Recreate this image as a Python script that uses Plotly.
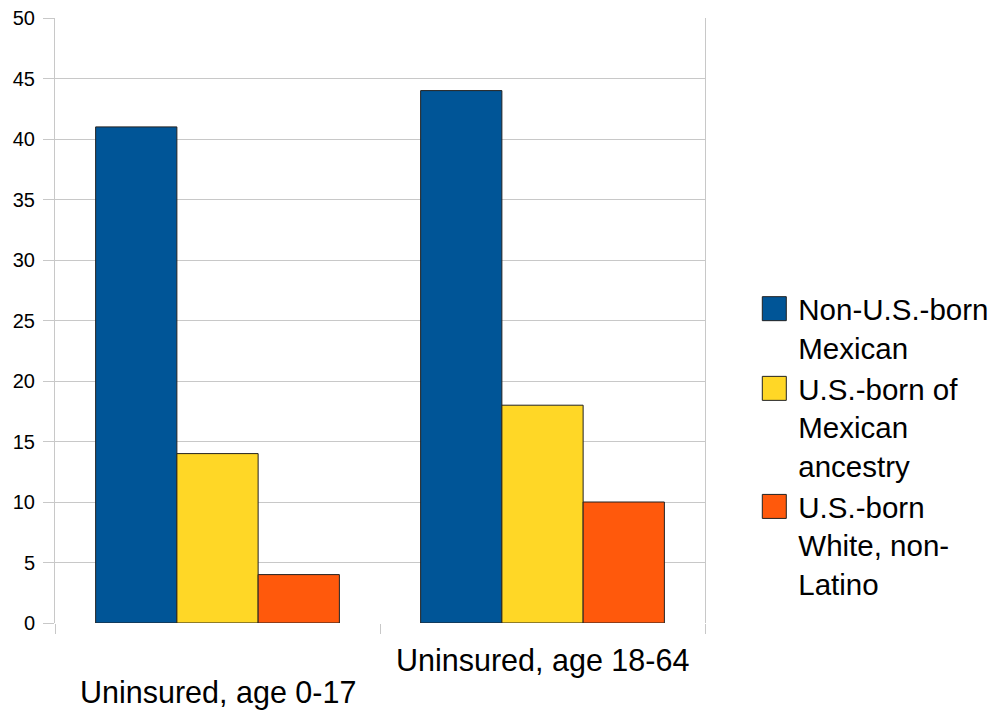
import plotly.graph_objects as go

categories = ["Uninsured, age 0-17", "Uninsured, age 18-64"]
series_names = ["Non-U.S.-born<br>Mexican", "U.S.-born of<br>Mexican<br>ancestry", "U.S.-born<br>White, non-<br>Latino"]
non_us_born_mexican = [41, 44]
us_born_mexican_ancestry = [14, 18]
us_born_white_non_latino = [4, 10]
series_values = [non_us_born_mexican, us_born_mexican_ancestry, us_born_white_non_latino]
series_colors = ["#005597", "#ffd726", "#ff590c"]
y_ticks = list(range(0, 51, 5))

FONT = "Liberation Sans, Arial, sans-serif"
GRID = "#c8c8c8"

fig = go.Figure()
for name, vals, col in zip(series_names, series_values, series_colors):
    fig.add_trace(go.Bar(
        x=categories, y=vals, name=name,
        marker=dict(color=col, line=dict(color="#222222", width=1)),
    ))

# Category labels, staggered on two rows
label_rows = [-0.115, -0.062]
for cat, row in zip(categories, label_rows):
    fig.add_annotation(x=cat, y=row, xref="x", yref="paper", text=cat,
                       showarrow=False, yanchor="middle",
                       font=dict(family=FONT, size=30.5, color="#000000"))

fig.update_layout(
    width=1005, height=717,
    margin=dict(l=55, r=300, t=18, b=94, autoexpand=False),
    paper_bgcolor="white", plot_bgcolor="white",
    barmode="group", bargap=0.25, bargroupgap=0,
    font=dict(family=FONT, color="#000000"),
    legend=dict(
        x=1.082, y=0.562, xanchor="left", yanchor="top", valign="top",
        font=dict(family=FONT, size=29.5, color="#000000"),
        tracegroupgap=0, itemwidth=30,
    ),
)
fig.update_xaxes(
    type="category", showticklabels=False, automargin=False,
    ticks="outside", tickson="boundaries", ticklen=10, tickcolor=GRID,
    showgrid=False, showline=False, zeroline=False,
)
fig.update_yaxes(
    range=[0, 50], tickvals=y_ticks, ticktext=[str(v) for v in y_ticks],
    automargin=False,
    showgrid=True, gridcolor=GRID, gridwidth=1,
    showline=True, linecolor=GRID, linewidth=1, mirror=True,
    ticks="outside", ticklen=11, tickcolor=GRID, ticklabelstandoff=4,
    tickfont=dict(family=FONT, size=20, color="#000000"),
    zeroline=False,
)

# Larger square swatches in the legend, set a little left of the text
swatch_js = """
var gd = document.getElementsByClassName('plotly-graph-div')[0];
function bigSwatches() {
  gd.querySelectorAll('.legendpoints path').forEach(function (p) {
    p.setAttribute('d', 'M8,12H-16V-12H8Z');
  });
}
bigSwatches();
gd.on('plotly_afterplot', bigSwatches);
"""

fig.write_html("out.html", post_script=swatch_js)
